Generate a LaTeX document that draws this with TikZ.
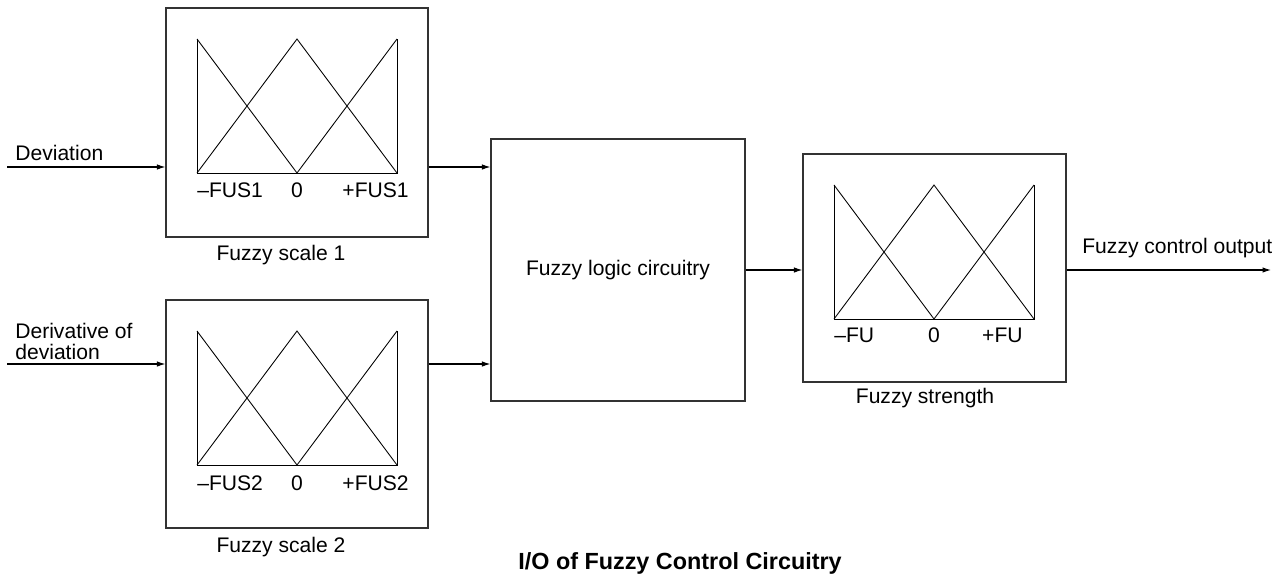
\documentclass[tikz,border=0pt]{standalone}
\usepackage{fontspec}
\setmainfont{Liberation Sans}
\usepackage{tikz}
\usetikzlibrary{arrows.meta}
\definecolor{FZLine}{HTML}{333333}

\tikzset{
  fzbox/.style={draw=FZLine,line width=0.7pt,inner sep=0pt},
  fzcurve/.style={draw=black,line width=0.5pt},
  fzarrow/.style={draw=black,line width=0.6pt,-{Latex[length=1.7mm,width=1.1mm]}},
  fztext/.style={inner sep=0pt,font=\fontsize{12}{12}\selectfont}
}
\newcommand{\fuzzyscale}[2]{%
  \draw[fzcurve] (#1,#2) -- (#1,#2+134) -- (#1+200,#2+134) -- (#1+200,#2);
  \draw[fzcurve] (#1,#2) -- (#1+100,#2+134) -- (#1+200,#2);
  \draw[fzcurve] (#1,#2+134) -- (#1+100,#2) -- (#1+200,#2+134);
}

\begin{document}
\begin{tikzpicture}[x=0.02cm,y=-0.02cm]
\path[use as bounding box] (0,0) rectangle (1282,579);
\node[fzbox,minimum width=5.24cm,minimum height=4.58cm] (scale1) at (297,122.5) {};
\node[fzbox,minimum width=5.24cm,minimum height=4.56cm] (scale2) at (297,414) {};
\node[fzbox,minimum width=5.08cm,minimum height=5.24cm] (logic) at (618,270) {};
\node[fzbox,minimum width=5.26cm,minimum height=4.56cm] (strength) at (934.5,268) {};
\fuzzyscale{197}{39}
\fuzzyscale{197}{331}
\fuzzyscale{834}{185}
\node[fztext,anchor=west] (fus1m) at (197,190) {\textendash FUS1};
\node[fztext] (fus1z) at (297,190) {0};
\node[fztext,anchor=east] (fus1p) at (409,190) {+FUS1};
\node[fztext,anchor=west] (fus2m) at (197,483) {\textendash FUS2};
\node[fztext] (fus2z) at (297,483) {0};
\node[fztext,anchor=east] (fus2p) at (409,483) {+FUS2};
\node[fztext,anchor=west] (fum) at (834,335) {\textendash FU};
\node[fztext] (fuz) at (934,335) {0};
\node[fztext,anchor=east] (fup) at (1023,335) {+FU};
\node[fztext] (cap1) at (281,255) {Fuzzy scale 1};
\node[fztext] (cap2) at (281,547) {Fuzzy scale 2};
\node[fztext] (cap3) at (925,398) {Fuzzy strength};
\node[fztext] (logictext) at (logic) {Fuzzy logic circuitry};
\node[fztext,anchor=west] (devtext) at (15,153) {Deviation};
\node[fztext,anchor=west,align=left] (dertext) at (15,341) {Derivative of\\deviation};
\node[fztext,anchor=west] (outtext) at (1082,248) {Fuzzy control output};
\node[fztext,font=\fontsize{13.3}{14}\selectfont\bfseries] (title) at (680,563) {I/O of Fuzzy Control Circuitry};
\coordinate (devin) at (7,167);
\coordinate (derin) at (7,364);
\coordinate (outend) at (1271,270);
\draw[fzarrow] (devin) -- (devin -| scale1.west);
\draw[fzarrow] (derin) -- (derin -| scale2.west);
\draw[fzarrow] (scale1.east |- devin) -- (logic.west |- devin);
\draw[fzarrow] (scale2.east |- derin) -- (logic.west |- derin);
\draw[fzarrow] (logic.east) -- (strength.west |- logic.east);
\draw[fzarrow] (strength.east |- outend) -- (outend);
\end{tikzpicture}
\end{document}
